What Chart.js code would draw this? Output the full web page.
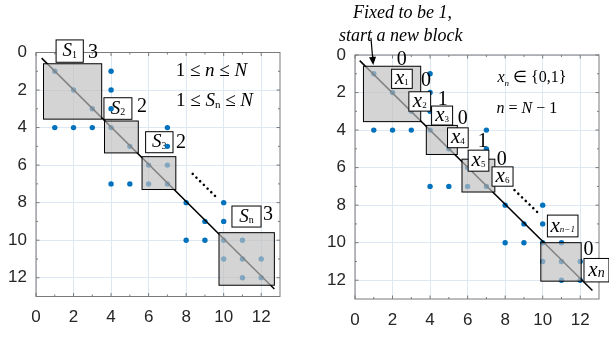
<!DOCTYPE html>
<html>
<head>
<meta charset="utf-8">
<script src="https://cdn.jsdelivr.net/npm/chart.js@4.4.0/dist/chart.umd.min.js"></script>
<style>
  html, body { margin: 0; padding: 0; background: #fff; }
  #wrap { position: relative; width: 609px; height: 337px; overflow: hidden; }
  canvas { position: absolute; top: 0; }
</style>
</head>
<body>
<div id="wrap">
  <canvas id="leftChart" width="304" height="337" style="left:0"></canvas>
  <canvas id="rightChart" width="305" height="337" style="left:304px"></canvas>
</div>
<script>
// axis ticks
const tickValues = [0, 2, 4, 6, 8, 10, 12];
const minorValues = [1, 3, 5, 7, 9, 11];

// blue points (column, row), same in both panels
const dotX = [1, 2, 3, 4, 4, 4, 1, 2, 3, 4, 5, 7, 7, 6, 7, 6, 7, 4, 5, 8, 9, 10, 10, 8, 9, 10, 11, 10, 11, 12, 11, 12];
const dotY = [1, 2, 3, 1, 2, 3, 4, 4, 4, 4, 5, 4, 5, 6, 6, 7, 7, 7, 7, 8, 9, 8, 9, 10, 10, 10, 10, 11, 11, 11, 12, 12];

// diagonal line and dotted continuation
const diagLeftX = [0.3, 12.7];
const diagLeftY = [0.3, 12.6];
const diagRightX = [0.25, 12.65];
const diagRightY = [0.3, 12.55];
const dottedLeftX = [8.35, 9.7];
const dottedLeftY = [6.47, 7.8];
const dottedRightX = [8.5, 9.85];
const dottedRightY = [7.2, 8.5];

// grey blocks
const blockLeftX0 = [0.4, 3.65, 5.65, 9.75];
const blockLeftX1 = [3.5, 5.45, 7.45, 12.7];
const blockLeftY0 = [0.6, 3.65, 5.55, 9.6];
const blockLeftY1 = [3.55, 5.35, 7.3, 12.4];
const blockRightX0 = [0.45, 3.8, 5.7, 9.9];
const blockRightX1 = [3.5, 5.45, 7.45, 12.05];
const blockRightY0 = [0.6, 3.75, 5.55, 10.0];
const blockRightY1 = [3.55, 5.3, 7.3, 12.05];

const SANS = '"Liberation Sans", Arial, sans-serif';
const SERIF = '"Liberation Serif", "Times New Roman", serif';
function f(style, size) { return style + ' ' + size + 'px ' + SERIF; }

function toPoints(xs, ys) {
  return xs.map((x, i) => ({ x: x, y: ys[i] }));
}

function drawParts(ctx, parts, x, y, align) {
  let w = 0;
  parts.forEach(p => { ctx.font = p[1]; w += ctx.measureText(p[0]).width; });
  let cx = align == 'center' ? x - w / 2 : x;
  ctx.textBaseline = 'middle';
  ctx.textAlign = 'left';
  ctx.fillStyle = '#000';
  parts.forEach(p => {
    ctx.font = p[1];
    ctx.fillText(p[0], cx, y + (p[2] || 0));
    cx += ctx.measureText(p[0]).width;
  });
}

function drawFrame(chart) {
  const ctx = chart.ctx, a = chart.chartArea;
  const xs = chart.scales.x, ys = chart.scales.y;
  ctx.save();
  ctx.strokeStyle = '#7a7a7a';
  ctx.lineWidth = 1;
  ctx.strokeRect(a.left, a.top, a.right - a.left, a.bottom - a.top);
  ctx.beginPath();
  [[tickValues, 3.5], [minorValues, 2]].forEach(([vals, len]) => {
    vals.forEach(v => {
      const px = xs.getPixelForValue(v), py = ys.getPixelForValue(v);
      ctx.moveTo(px, a.bottom); ctx.lineTo(px, a.bottom - len);
      ctx.moveTo(px, a.top); ctx.lineTo(px, a.top + len);
      ctx.moveTo(a.left, py); ctx.lineTo(a.left + len, py);
      ctx.moveTo(a.right, py); ctx.lineTo(a.right - len, py);
    });
  });
  ctx.stroke();
  ctx.restore();
}

function drawBlocks(chart, x0, x1, y0, y1) {
  const ctx = chart.ctx, xs = chart.scales.x, ys = chart.scales.y;
  ctx.save();
  ctx.fillStyle = 'rgba(191,191,191,0.68)';
  ctx.strokeStyle = '#000';
  ctx.lineWidth = 1;
  for (let i = 0; i < x0.length; i++) {
    const l = xs.getPixelForValue(x0[i]), r = xs.getPixelForValue(x1[i]);
    const t = ys.getPixelForValue(y0[i]), b = ys.getPixelForValue(y1[i]);
    ctx.fillRect(l, t, r - l, b - t);
    ctx.strokeRect(l, t, r - l, b - t);
  }
  ctx.restore();
}

function drawLabels(chart, boxes, texts) {
  const ctx = chart.ctx, xs = chart.scales.x, ys = chart.scales.y;
  ctx.save();
  boxes.forEach(b => {
    const l = xs.getPixelForValue(b.box[0]), r = xs.getPixelForValue(b.box[1]);
    const t = ys.getPixelForValue(b.box[2]), bt = ys.getPixelForValue(b.box[3]);
    ctx.fillStyle = '#fff';
    ctx.fillRect(l, t, r - l, bt - t);
    ctx.strokeStyle = '#000';
    ctx.lineWidth = 1;
    ctx.strokeRect(l, t, r - l, bt - t);
    drawParts(ctx, b.parts, (l + r) / 2, (t + bt) / 2, 'center');
  });
  texts.forEach(tx => {
    drawParts(ctx, tx.parts, xs.getPixelForValue(tx.at[0]), ys.getPixelForValue(tx.at[1]), 'left');
  });
  ctx.restore();
}

function makeScales(yWidth, xHeight) {
  const common = {
    type: 'linear', min: 0, max: 13,
    afterBuildTicks: s => { s.ticks = tickValues.map(v => ({ value: v })); },
    grid: { color: '#dde8f2', drawTicks: false, lineWidth: 1 },
    border: { display: false },
    ticks: { color: '#262626', font: { family: SANS, size: 17 } }
  };
  return {
    x: Object.assign({}, common, {
      position: 'bottom',
      afterFit: s => { s.height = xHeight; },
      ticks: Object.assign({}, common.ticks, { padding: 11, maxRotation: 0 })
    }),
    y: Object.assign({}, common, {
      reverse: true,
      afterFit: s => { s.width = yWidth; },
      ticks: Object.assign({}, common.ticks, { padding: 9 })
    })
  };
}

function makeDatasets(diagX, diagY, dotsX2, dotsY2) {
  return [
    {
      data: toPoints(diagX, diagY), showLine: true, pointRadius: 0,
      borderColor: '#000', borderWidth: 1.5
    },
    {
      data: toPoints(dotsX2, dotsY2), showLine: true, pointRadius: 0,
      borderColor: '#000', borderWidth: 2.6, borderDash: [0.01, 5.2], borderCapStyle: 'round'
    },
    {
      data: toPoints(dotX, dotY), pointRadius: 2.7, pointBorderWidth: 0,
      backgroundColor: '#0072BD', borderColor: '#0072BD'
    }
  ];
}

// ---------- left panel ----------
const leftBoxes = [
  { box: [1.07, 2.52, -0.67, 0.52], parts: [['S', f('italic', 19)], ['1', f('', 10), 4]] },
  { box: [3.62, 5.11, 2.41, 3.56], parts: [['S', f('italic', 19)], ['2', f('', 10), 4]] },
  { box: [5.84, 7.3, 4.22, 5.34], parts: [['S', f('italic', 19)], ['3', f('', 10), 4]] },
  { box: [10.44, 11.99, 8.18, 9.3], parts: [['S', f('italic', 19)], ['n', f('', 10), 4]] }
];
const leftTexts = [
  { at: [2.77, 0.01], parts: [['3', f('', 20)]] },
  { at: [5.38, 2.9], parts: [['2', f('', 20)]] },
  { at: [7.46, 4.82], parts: [['2', f('', 20)]] },
  { at: [12.09, 8.66], parts: [['3', f('', 20)]] },
  { at: [7.44, 0.97], parts: [['1 \u2264 ', f('', 19)], ['n', f('italic', 19)], [' \u2264 ', f('', 19)], ['N', f('italic', 19)]] },
  { at: [7.46, 2.57], parts: [['1 \u2264 ', f('', 19)], ['S', f('italic', 19)], ['n', f('', 11), 4], [' \u2264 ', f('', 19)], ['N', f('italic', 19)]] }
];

new Chart(document.getElementById('leftChart'), {
  type: 'scatter',
  data: { datasets: makeDatasets(diagLeftX, diagLeftY, dottedLeftX, dottedLeftY) },
  options: {
    responsive: false, animation: false,
    layout: { padding: { top: 52.5, right: 24, left: 0, bottom: 0 } },
    plugins: { legend: { display: false }, tooltip: { enabled: false } },
    scales: makeScales(36, 40.5)
  },
  plugins: [{
    id: 'leftDecor',
    beforeDatasetsDraw(chart) {
      drawFrame(chart);
      drawLabels(chart, leftBoxes, []);
    },
    afterDatasetsDraw(chart) {
      drawBlocks(chart, blockLeftX0, blockLeftX1, blockLeftY0, blockLeftY1);
      drawLabels(chart, [], leftTexts);
    }
  }]
});

// ---------- right panel ----------
function xLabel(sub, subStyle) {
  return [['x', f('italic', 21)], [sub, f(subStyle || '', 9), 4]];
}
const rightBoxes = [
  { box: [1.95, 3.05, 0.76, 1.78], parts: xLabel('1') },
  { box: [2.87, 4.03, 1.96, 2.99], parts: xLabel('2') },
  { box: [4.08, 5.2, 2.72, 3.73], parts: xLabel('3') },
  { box: [4.93, 6.03, 3.88, 4.94], parts: xLabel('4') },
  { box: [6.03, 7.13, 5.07, 6.19], parts: xLabel('5') },
  { box: [7.3, 8.42, 5.96, 6.99], parts: xLabel('6') },
  { box: [10.25, 11.88, 8.53, 9.69], parts: xLabel('n\u22121', 'italic') },
  { box: [12.2, 13.53, 10.84, 12.09], parts: [['x', f('italic', 21)], ['n', f('italic', 14), 3]] }
];
const rightTexts = [
  { at: [2.23, 0.23], parts: [['0', f('', 20)]] },
  { at: [3.51, 1.39], parts: [['0', f('', 20)]] },
  { at: [4.41, 2.36], parts: [['1', f('', 20)]] },
  { at: [5.48, 3.38], parts: [['0', f('', 20)]] },
  { at: [6.54, 4.62], parts: [['1', f('', 20)]] },
  { at: [7.55, 5.56], parts: [['0', f('', 20)]] },
  { at: [12.18, 10.4], parts: [['0', f('', 20)]] },
  { at: [7.59, 1.24], parts: [['x', f('italic', 16)], ['n', f('italic', 9), 5], [' \u2208 {0,1}', f('', 16)]] },
  { at: [7.54, 2.84], parts: [['n', f('italic', 16)], [' = ', f('', 16)], ['N', f('italic', 16)], [' \u2212 1', f('', 16)]] },
  { at: [-0.11, -2.24], parts: [['Fixed to be 1,', f('italic', 18)]] },
  { at: [-0.85, -1.01], parts: [['start a new block', f('italic', 18)]] }
];

function drawArrow(chart, from, to) {
  const ctx = chart.ctx, xs = chart.scales.x, ys = chart.scales.y;
  const x0 = xs.getPixelForValue(from[0]), y0 = ys.getPixelForValue(from[1]);
  const x1 = xs.getPixelForValue(to[0]), y1 = ys.getPixelForValue(to[1]);
  const ang = Math.atan2(y1 - y0, x1 - x0);
  ctx.save();
  ctx.strokeStyle = '#000';
  ctx.fillStyle = '#000';
  ctx.lineWidth = 1.2;
  ctx.beginPath();
  ctx.moveTo(x0, y0);
  ctx.lineTo(x1 - 6 * Math.cos(ang), y1 - 6 * Math.sin(ang));
  ctx.stroke();
  ctx.beginPath();
  ctx.moveTo(x1, y1);
  ctx.lineTo(x1 - 8 * Math.cos(ang) + 3.5 * Math.sin(ang), y1 - 8 * Math.sin(ang) - 3.5 * Math.cos(ang));
  ctx.lineTo(x1 - 8 * Math.cos(ang) - 3.5 * Math.sin(ang), y1 - 8 * Math.sin(ang) + 3.5 * Math.cos(ang));
  ctx.closePath();
  ctx.fill();
  ctx.restore();
}

new Chart(document.getElementById('rightChart'), {
  type: 'scatter',
  data: { datasets: makeDatasets(diagRightX, diagRightY, dottedRightX, dottedRightY) },
  options: {
    responsive: false, animation: false,
    layout: { padding: { top: 55, right: 10, left: 0, bottom: 0 } },
    plugins: { legend: { display: false }, tooltip: { enabled: false } },
    scales: makeScales(51, 38)
  },
  plugins: [{
    id: 'rightDecor',
    beforeDatasetsDraw(chart) {
      drawFrame(chart);
    },
    afterDatasetsDraw(chart) {
      drawBlocks(chart, blockRightX0, blockRightX1, blockRightY0, blockRightY1);
      drawLabels(chart, rightBoxes, rightTexts);
      drawArrow(chart, [0.85, -0.91], [0.97, 0.53]);
    }
  }]
});
</script>
</body>
</html>
